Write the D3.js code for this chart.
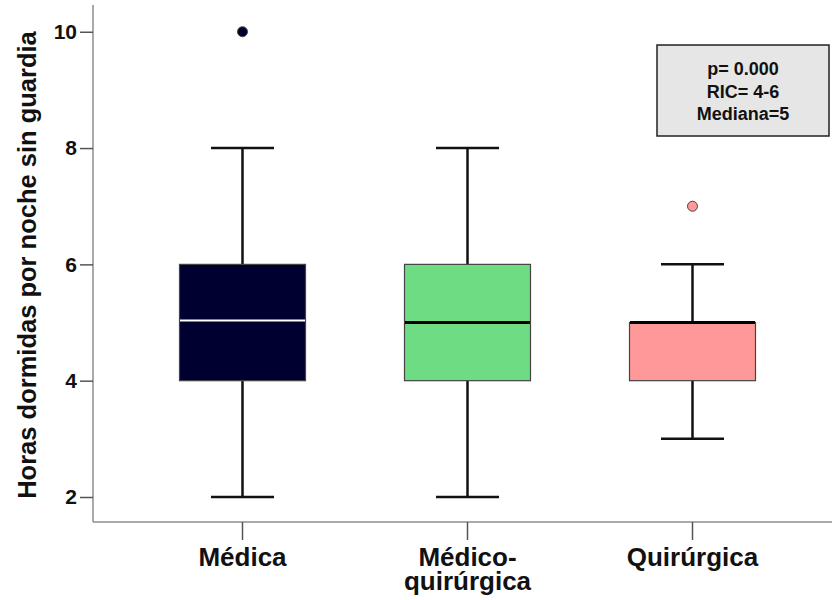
<!DOCTYPE html>
<html><head><meta charset="utf-8">
<script src="https://cdn.jsdelivr.net/npm/d3@7"></script>
<style>body{margin:0;background:#fff}svg{display:block}text{font-family:"Liberation Sans",Arial,sans-serif;font-weight:bold}</style>
</head><body>
<svg id="c" width="832" height="600"></svg>
<script>
const categories = ["Médica", "Médico-quirúrgica", "Quirúrgica"];
const catLines = [["Médica"], ["Médico-", "quirúrgica"], ["Quirúrgica"]];
const q1 = [4, 4, 4];
const median = [5, 5, 5];
const q3 = [6, 6, 5];
const whiskLow = [2, 2, 3];
const whiskHigh = [8, 8, 6];
const outliers = [[10], [], [7]];
const fills = ["#000030", "#6edc82", "#ff9898"];
const medianColors = ["#ffffff", "#000000", "#000000"];
const yTicks = [2, 4, 6, 8, 10];
const yLabel = "Horas dormidas por noche sin guardia";
const noteLines = ["p= 0.000", "RIC= 4-6", "Mediana=5"];

const svg = d3.select("#c");
const y = d3.scaleLinear().domain([1.57, 10.46]).range([522, 5]);
const x = d3.scaleBand().domain(categories).range([130, 805]);
const axisX = 93, axisY = 522;

// axes lines
svg.append("line").attr("x1", axisX).attr("x2", axisX).attr("y1", y(10.46)).attr("y2", axisY)
  .attr("stroke", "#8c8c8c").attr("stroke-width", 1.5);
svg.append("line").attr("x1", axisX).attr("x2", 832).attr("y1", axisY).attr("y2", axisY)
  .attr("stroke", "#8c8c8c").attr("stroke-width", 1.5);

// y ticks
const yAxis = d3.axisLeft(y).tickValues(yTicks).tickSize(13).tickPadding(3).tickFormat(d3.format("d"));
const ga = svg.append("g").attr("transform", `translate(${axisX},0)`).call(yAxis);
ga.select(".domain").remove();
ga.selectAll(".tick line").attr("stroke", "#555").attr("stroke-width", 1.5);
ga.selectAll(".tick text").attr("fill", "#111").attr("font-size", 21).attr("font-family", "Liberation Sans, Arial").attr("font-weight", "bold");

// x ticks and labels
const cx = c => x(c) + x.bandwidth() / 2;
categories.forEach((c, i) => {
  svg.append("line").attr("x1", cx(c)).attr("x2", cx(c)).attr("y1", axisY).attr("y2", 540)
    .attr("stroke", "#555").attr("stroke-width", 1.5);
  const t = svg.append("text").attr("x", cx(c)).attr("y", 566).attr("text-anchor", "middle")
    .attr("font-size", 26).attr("fill", "#111");
  catLines[i].forEach((l, j) => t.append("tspan").attr("x", cx(c)).attr("dy", j ? 24 : 0).text(l));
});

// y label
svg.append("text").attr("transform", `translate(36,265) rotate(-90)`).attr("text-anchor", "middle")
  .attr("font-size", 25.5).attr("fill", "#111").text(yLabel);

// boxes
const boxW = 126, capW = 63;
categories.forEach((c, i) => {
  const xc = cx(c);
  const g = svg.append("g");
  g.append("line").attr("x1", xc).attr("x2", xc).attr("y1", y(whiskHigh[i])).attr("y2", y(q3[i]))
    .attr("stroke", "#111").attr("stroke-width", 2.5);
  g.append("line").attr("x1", xc).attr("x2", xc).attr("y1", y(q1[i])).attr("y2", y(whiskLow[i]))
    .attr("stroke", "#111").attr("stroke-width", 2.5);
  [whiskHigh[i], whiskLow[i]].forEach(v => g.append("line").attr("x1", xc - capW / 2).attr("x2", xc + capW / 2)
    .attr("y1", y(v)).attr("y2", y(v)).attr("stroke", "#111").attr("stroke-width", 2.5));
  g.append("rect").attr("x", xc - boxW / 2).attr("y", y(q3[i])).attr("width", boxW)
    .attr("height", y(q1[i]) - y(q3[i])).attr("fill", fills[i]).attr("stroke", "#444").attr("stroke-width", 1.2);
  g.append("line").attr("x1", xc - boxW / 2 + 0.5).attr("x2", xc + boxW / 2 - 0.5)
    .attr("y1", y(median[i]) - (i === 0 ? 2 : 0)).attr("y2", y(median[i]) - (i === 0 ? 2 : 0))
    .attr("stroke", medianColors[i]).attr("stroke-width", i === 0 ? 2 : 3);
  outliers[i].forEach(v => g.append("circle").attr("cx", xc).attr("cy", y(v)).attr("r", 5)
    .attr("fill", fills[i]).attr("stroke", "#444").attr("stroke-width", 1));
});

// note box
svg.append("rect").attr("x", 657).attr("y", 45).attr("width", 172).attr("height", 91)
  .attr("fill", "#e6e6e6").attr("stroke", "#222").attr("stroke-width", 1.5);
noteLines.forEach((l, i) => svg.append("text").attr("x", 743).attr("y", 75 + i * 22.5)
  .attr("text-anchor", "middle").attr("font-size", 18).attr("fill", "#111").text(l));
</script>
</body></html>
